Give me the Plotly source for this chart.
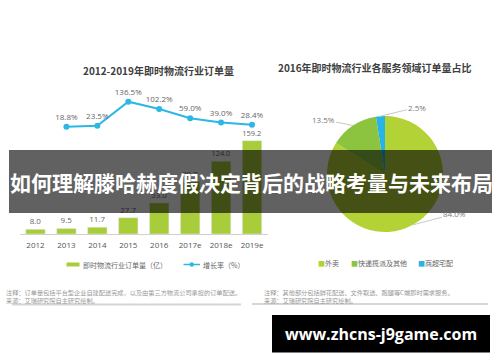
import math
import plotly.graph_objects as go

# ---------------- data ----------------
years = ["2012", "2013", "2014", "2015", "2016", "2017e", "2018e", "2019e"]
orders = [8.0, 9.5, 11.7, 27.7, 53.0, 89.2, 124.0, 159.2]
growth_years = ["2013", "2014", "2015", "2016", "2017e", "2018e", "2019e"]
growth = [18.8, 23.5, 136.5, 102.2, 59.0, 39.0, 28.4]

pie_labels = ["外卖", "快递揽派及其他", "商超宅配"]
pie_values = [84.0, 13.5, 2.5]

left_title = "2012-2019年即时物流行业订单量"
right_title = "2016年即时物流行业各服务领域订单量占比"
bar_name = "即时物流行业订单量（亿）"
line_name = "增长率（%）"
left_note = "注释：订单量包括平台型企业自建配送完成，以及由第三方物流公司承担的订单配送。<br>来源：艾瑞研究院自主研究绘制。"
right_note = "注释：其他部分包括鲜花配送、文件取送、跑腿等C端即时需求服务。<br>来源：艾瑞研究院自主研究绘制。"
banner_text = "如何理解滕哈赫度假决定背后的战略考量与未来布局"
watermark = "www.zhcns-j9game.com"

# ---------------- style ----------------
W, H = 500, 362
BAR_C = "#a9cd3a"
LINE_C = "#2db7e5"
PIE_C = ["#b3d235", "#8cc43f", "#27b5e6"]
CJK = "Noto Sans CJK SC"
NUM = "Open Sans, Noto Sans CJK SC"


def px(x):
    return x / W


def py(y):
    return 1 - y / H


fig = go.Figure()

fig.add_trace(go.Bar(
    x=years, y=orders, marker_color=BAR_C,
    text=[f"{v:.1f}" for v in orders], textposition="outside",
    textfont=dict(size=8, color="#666", family=NUM),
    cliponaxis=False, showlegend=False, hoverinfo="skip",
))

fig.add_trace(go.Scatter(
    x=growth_years, y=growth, yaxis="y2", mode="lines+markers+text",
    line=dict(color=LINE_C, width=2), marker=dict(color=LINE_C, size=6),
    text=[f"{v:.1f}%" for v in growth], textposition="top center",
    textfont=dict(size=8, color="#666", family=NUM),
    cliponaxis=False, showlegend=False, hoverinfo="skip",
))

# pie geometry
CX, CY, R = 385, 174, 58
fig.add_trace(go.Pie(
    labels=pie_labels, values=pie_values, marker=dict(colors=PIE_C),
    sort=False, direction="clockwise", rotation=0, textinfo="none",
    domain=dict(x=[px(CX - R), px(CX + R)], y=[py(CY + R), py(CY - R)]),
    showlegend=False, hoverinfo="skip",
))

annotations = []
shapes = []

# pie labels with leader lines, anchored at slice mid-angle on the rim
offsets = [(42, -11), (-30, -6), (37, -9)]
total = sum(pie_values)
cum = 0
for v, (ax, ay) in zip(pie_values, offsets):
    th = 2 * math.pi * (cum + v / 2) / total
    cum += v
    ex = CX + R * math.sin(th)
    ey = CY - R * math.cos(th)
    annotations.append(dict(
        x=px(ex), y=py(ey), xref="paper", yref="paper",
        text=f"{v:.1f}%", showarrow=True, arrowhead=0, arrowwidth=1,
        arrowcolor="#c8c8c8", ax=ax, ay=ay,
        font=dict(size=8, color="#777", family=NUM),
    ))

# titles
annotations.append(dict(x=px(158), y=py(70), xref="paper", yref="paper",
                        xanchor="center", yanchor="middle",
                        text=f"<b>{left_title}</b>", showarrow=False,
                        font=dict(size=10, color="#404040", family=CJK)))
annotations.append(dict(x=px(375), y=py(68), xref="paper", yref="paper",
                        xanchor="center", yanchor="middle",
                        text=f"<b>{right_title}</b>", showarrow=False,
                        font=dict(size=10, color="#404040", family=CJK)))

# left legend
shapes.append(dict(type="rect", xref="paper", yref="paper",
                   x0=px(66.5), x1=px(79.5), y0=py(266.5), y1=py(262.5),
                   fillcolor=BAR_C, line_width=0))
annotations.append(dict(x=px(81), y=py(264.5), xref="paper", yref="paper",
                        xanchor="left", yanchor="middle", text=bar_name,
                        showarrow=False,
                        font=dict(size=7, color="#666", family=CJK)))
shapes.append(dict(type="line", xref="paper", yref="paper",
                   x0=px(183.5), x1=px(200), y0=py(264.5), y1=py(264.5),
                   line=dict(color=LINE_C, width=1.5)))
shapes.append(dict(type="circle", xref="paper", yref="paper",
                   x0=px(189.5), x1=px(194), y0=py(266.75), y1=py(262.25),
                   fillcolor=LINE_C, line_width=0))
annotations.append(dict(x=px(201), y=py(264.5), xref="paper", yref="paper",
                        xanchor="left", yanchor="middle", text=line_name,
                        showarrow=False,
                        font=dict(size=7, color="#666", family=CJK)))

# right legend
leg_x = [316, 349, 416]
for lab, col, lx in zip(pie_labels, PIE_C, leg_x):
    annotations.append(dict(
        x=px(lx), y=py(262.5), xref="paper", yref="paper", xanchor="left",
        yanchor="middle",
        text=f'<span style="color:{col}">■</span>{lab}', showarrow=False,
        font=dict(size=7, color="#666", family=CJK)))

# notes
annotations.append(dict(x=px(4), y=py(285.5), xref="paper", yref="paper",
                        xanchor="left", yanchor="top", align="left",
                        text=left_note, showarrow=False,
                        font=dict(size=6.2, color="#999", family=CJK)))
annotations.append(dict(x=px(262), y=py(285.5), xref="paper", yref="paper",
                        xanchor="left", yanchor="top", align="left",
                        text=right_note, showarrow=False,
                        font=dict(size=6.2, color="#999", family=CJK)))
shapes.append(dict(type="line", xref="paper", yref="paper",
                   x0=px(12), x1=px(241), y0=py(304.5), y1=py(304.5),
                   line=dict(color="#d6d6d6", width=2)))
shapes.append(dict(type="line", xref="paper", yref="paper",
                   x0=px(252), x1=px(488), y0=py(304), y1=py(304),
                   line=dict(color="#d6d6d6", width=2)))

# banner overlay
shapes.append(dict(type="rect", xref="paper", yref="paper", layer="above",
                   x0=px(9), x1=px(492), y0=py(213), y1=py(150),
                   fillcolor="rgba(0,0,0,0.62)", line_width=0))
annotations.append(dict(x=px(251), y=py(182), xref="paper", yref="paper",
                        xanchor="center", yanchor="middle",
                        text=f"<b>{banner_text}</b>", showarrow=False,
                        font=dict(size=21, color="white", family=CJK)))

# watermark
shapes.append(dict(type="rect", xref="paper", yref="paper", layer="above",
                   x0=px(272), x1=px(490), y0=py(352.5), y1=py(315),
                   fillcolor="black", line_width=0))
annotations.append(dict(x=px(380.5), y=py(333.5), xref="paper", yref="paper",
                        xanchor="center", yanchor="middle",
                        text=f"<b>{watermark}</b>", showarrow=False,
                        font=dict(size=16, color="white", family="Open Sans")))

fig.update_layout(
    width=W, height=H, margin=dict(l=0, r=0, t=0, b=0),
    paper_bgcolor="white", plot_bgcolor="rgba(0,0,0,0)",
    bargap=0.373,
    xaxis=dict(type="category", domain=[px(20.0), px(267.5)], range=[-0.5, 7.5],
               showline=True, linecolor="#d0d0d0", linewidth=1, ticks="",
               showgrid=False, zeroline=False, fixedrange=True,
               ticklabelstandoff=3,
               tickfont=dict(size=8, color="#555", family=NUM)),
    yaxis=dict(domain=[py(234), py(90)], range=[0, 245.7], visible=False,
               fixedrange=True),
    yaxis2=dict(overlaying="y", range=[-486.3, 191.6], visible=False,
                fixedrange=True),
    annotations=annotations, shapes=shapes,
)

fig.write_html("out.html",
               config={"displayModeBar": False},
               post_script="document.body.style.margin='0';"
                           "document.body.style.overflow='hidden';")
